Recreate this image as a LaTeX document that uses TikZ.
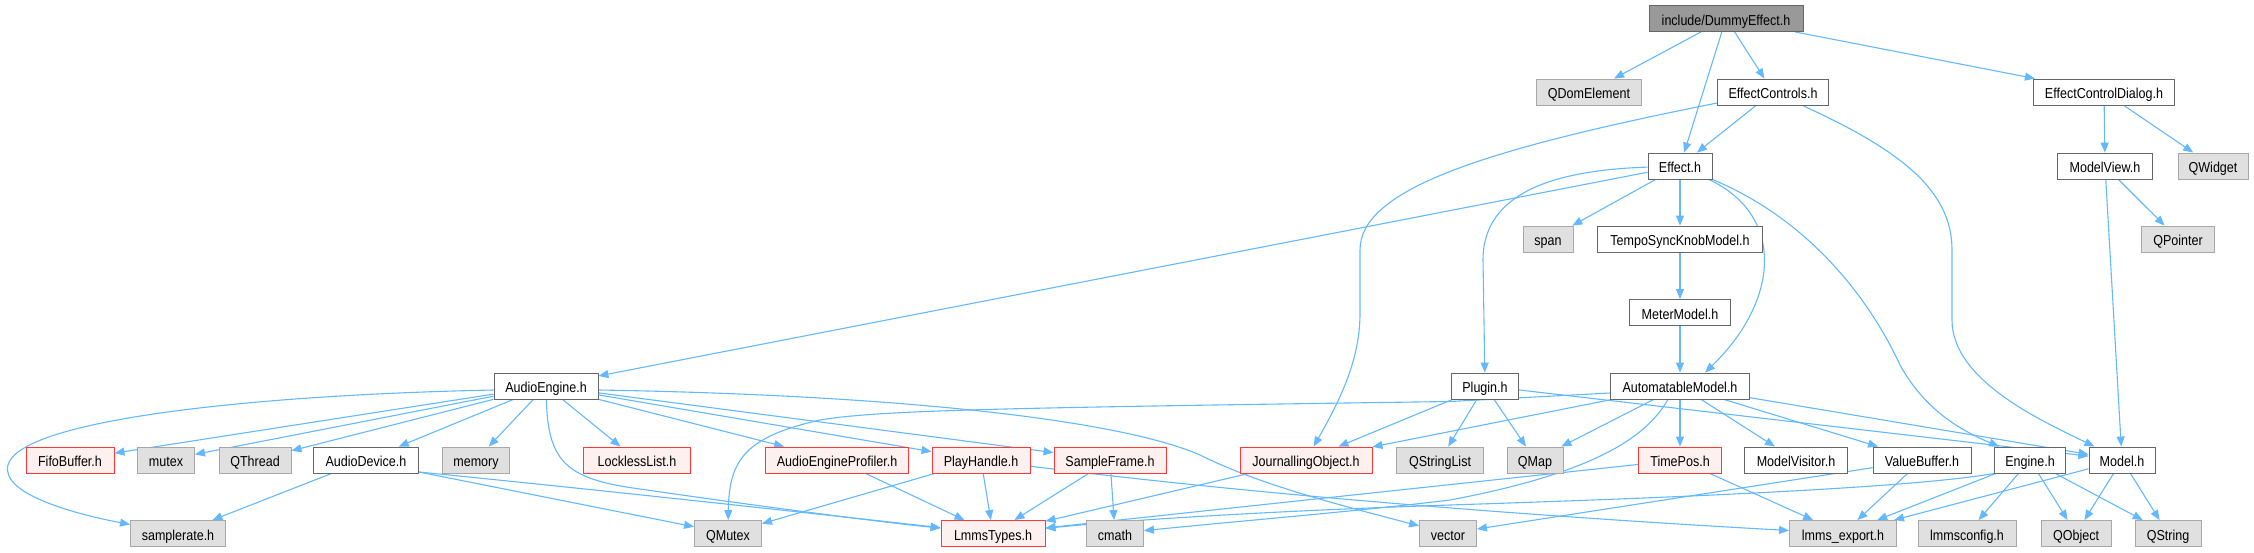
\documentclass[tikz,border=0pt]{standalone}
\usepackage{fontspec}
\setmainfont{Liberation Sans}[FakeStretch=0.87]
\usetikzlibrary{arrows.meta}
\definecolor{edgec}{HTML}{63B8FF}
\definecolor{bord}{HTML}{666666}
\definecolor{gfill}{HTML}{E0E0E0}
\definecolor{gbord}{HTML}{A8A8A8}
\definecolor{rfill}{HTML}{FFF0F0}
\definecolor{rbord}{HTML}{FF3838}
\definecolor{rootfill}{HTML}{999999}
\pgfdeclarelayer{background}
\pgfsetlayers{background,main}
\begin{document}
\begin{tikzpicture}[x=1pt,y=-1pt,
  nbase/.style={rectangle, minimum height=26pt, inner sep=0pt, line width=0.9pt,
    font=\fontsize{14.4}{16}\selectfont, text height=13.6pt, text depth=0pt},
  wbox/.style={nbase, draw=bord, fill=white},
  gbox/.style={nbase, draw=gbord, fill=gfill},
  rbox/.style={nbase, draw=rbord, fill=rfill},
  rootbox/.style={nbase, draw=bord, fill=rootfill},
  dep/.style={draw=edgec, line width=1.1pt, -{Triangle[length=10pt,width=8pt]}}]
\useasboundingbox (0,0) rectangle (2254,552);
% row A
\node[rootbox, minimum width=154pt] (root) at (1726,18.5) {include/DummyEffect.h};
% row B
\node[gbox, minimum width=105pt] (qdom) at (1589,92) {QDomElement};
\node[wbox, minimum width=111pt] (ectrl) at (1773,92) {EffectControls.h};
\node[wbox, minimum width=141pt] (ecd) at (2104,92) {EffectControlDialog.h};
% row C
\node[wbox, minimum width=64pt] (effect) at (1680,166) {Effect.h};
\node[wbox, minimum width=95pt] (mview) at (2105,166) {ModelView.h};
\node[gbox, minimum width=70pt] (qwidget) at (2213,166) {QWidget};
% row D
\node[gbox, minimum width=50pt] (span) at (1548,239) {span};
\node[wbox, minimum width=165pt] (tsk) at (1680,239) {TempoSyncKnobModel.h};
\node[gbox, minimum width=73pt] (qpointer) at (2178,239) {QPointer};
% row E
\node[wbox, minimum width=101pt] (meter) at (1680,312.5) {MeterModel.h};
% row F
\node[wbox, minimum width=104pt] (aeng) at (546,386) {AudioEngine.h};
\node[wbox, minimum width=67pt] (plugin) at (1485,386) {Plugin.h};
\node[wbox, minimum width=139pt] (amodel) at (1680,386) {AutomatableModel.h};
% row G
\node[rbox, minimum width=88pt] (fifo) at (70,460) {FifoBuffer.h};
\node[gbox, minimum width=57pt] (mutex) at (166,460) {mutex};
\node[gbox, minimum width=72pt] (qthread) at (255,460) {QThread};
\node[wbox, minimum width=105pt] (adev) at (366,460) {AudioDevice.h};
\node[gbox, minimum width=67pt] (memory) at (476,460) {memory};
\node[rbox, minimum width=107pt] (lockless) at (637,460) {LocklessList.h};
\node[rbox, minimum width=143pt] (aep) at (837,460) {AudioEngineProfiler.h};
\node[rbox, minimum width=98pt] (phandle) at (981,460) {PlayHandle.h};
\node[rbox, minimum width=112pt] (sframe) at (1110,460) {SampleFrame.h};
\node[rbox, minimum width=132pt] (jobj) at (1306,460) {JournallingObject.h};
\node[gbox, minimum width=87pt] (qsl) at (1440,460) {QStringList};
\node[gbox, minimum width=56pt] (qmap) at (1535,460) {QMap};
\node[rbox, minimum width=83pt] (timepos) at (1680,460) {TimePos.h};
\node[wbox, minimum width=103pt] (mvisitor) at (1796,460) {ModelVisitor.h};
\node[wbox, minimum width=98pt] (vbuf) at (1922,460) {ValueBuffer.h};
\node[wbox, minimum width=71pt] (engine) at (2030,460) {Engine.h};
\node[wbox, minimum width=66pt] (model) at (2122,460) {Model.h};
% row H
\node[gbox, minimum width=95pt] (samplerate) at (178,533.5) {samplerate.h};
\node[gbox, minimum width=67pt] (qmutex) at (728,533.5) {QMutex};
\node[rbox, minimum width=104pt] (lmmstypes) at (993,533.5) {LmmsTypes.h};
\node[gbox, minimum width=57pt] (cmath) at (1115,533.5) {cmath};
\node[gbox, minimum width=57pt] (vector) at (1448,533.5) {vector};
\node[gbox, minimum width=107pt] (lexport) at (1843,533.5) {lmms\_export.h};
\node[gbox, minimum width=98pt] (lconfig) at (1967,533.5) {lmmsconfig.h};
\node[gbox, minimum width=70pt] (qobject) at (2076,533.5) {QObject};
\node[gbox, minimum width=66pt] (qstring) at (2168,533.5) {QString};

\begin{pgfonlayer}{background}
\draw[dep] (root) -- (qdom);
\draw[dep] (root) -- (effect);
\draw[dep] (root) -- (ectrl);
\draw[dep] (root) -- (ecd);
\draw[dep] (ectrl) -- (effect);
\draw[dep] (ectrl) .. controls (1480,150) and (1360,190) .. (1360,250) -- (1360,313) .. controls (1360,360) and (1340,400) .. (jobj);
\draw[dep] (ectrl) .. controls (1900,150) and (1952,190) .. (1952,250) -- (1952,320) .. controls (1952,380) and (2040,420) .. (model);
\draw[dep] (ecd) -- (mview);
\draw[dep] (ecd) -- (qwidget);
\draw[dep] (mview) -- (qpointer);
\draw[dep] (mview) -- (model);
\draw[dep] (effect) -- (aeng);
\draw[dep] (effect) -- (span);
\draw[dep] (effect) -- (tsk);
\draw[dep] (effect) .. controls (1560,170) and (1483,190) .. (1483,260) -- (plugin);
\draw[dep] (effect) .. controls (1785,215) and (1780,300) .. ([xshift=25pt]amodel.north);
\draw[dep] (effect) .. controls (1810,220) and (1870,300) .. (1900,365) .. controls (1925,410) and (1960,430) .. ([xshift=5pt]engine.north west);
\draw[dep] (tsk) -- (meter);
\draw[dep] (meter) -- (amodel);
% Plugin
\draw[dep] (plugin) -- (jobj);
\draw[dep] (plugin) -- (qsl);
\draw[dep] (plugin) -- (qmap);
\draw[dep] (plugin) -- (model);
% AutomatableModel
\draw[dep] (amodel) -- (jobj);
\draw[dep] ([yshift=-7pt]amodel.west) -- (1450,401.5) .. controls (1000,408) and (880,410) .. (820,420) .. controls (745,437) and (729,460) .. (qmutex);
\draw[dep] (amodel) -- (qmap);
\draw[dep] (amodel) -- (timepos);
\draw[dep] (amodel) -- (mvisitor);
\draw[dep] (amodel) -- (vbuf);
\draw[dep] (amodel) -- (model);
\draw[dep] ([xshift=-12pt]amodel.south) .. controls (1650,430) and (1610,470) .. (1450,500) .. controls (1350,512) and (1250,520) .. (cmath);
% row G to row H
\draw[dep] (timepos) -- (lmmstypes);
\draw[dep] (timepos) -- (lexport);
\draw[dep] (vbuf) -- (lexport);
\draw[dep] (vbuf) -- (vector);
\draw[dep] (engine) -- (lexport);
\draw[dep] (engine) -- (lconfig);
\draw[dep] (engine) -- (qobject);
\draw[dep] (engine) -- (qstring);
\draw[dep] (engine.south west) .. controls (1900,490) and (1600,500) .. (1450,505) .. controls (1300,510) and (1150,518) .. (lmmstypes);
\draw[dep] (model) -- (lexport);
\draw[dep] (model) -- (qobject);
\draw[dep] (model) -- (qstring);
\draw[dep] (jobj) -- (lmmstypes);
\draw[dep] (sframe) -- (lmmstypes);
\draw[dep] (sframe) -- (cmath);
\draw[dep] (phandle) -- (qmutex);
\draw[dep] (phandle) -- (lmmstypes);
\draw[dep] (phandle) .. controls (1300,500) and (1600,520) .. (lexport);
\draw[dep] (aep) -- (lmmstypes);
% AudioEngine
\draw[dep] ([yshift=-4pt]aeng.west) .. controls (250,395) and (20,420) .. (8,465) .. controls (0,495) and (80,515) .. (samplerate);
\draw[dep] (aeng) -- (fifo);
\draw[dep] (aeng) -- (mutex);
\draw[dep] (aeng) -- (qthread);
\draw[dep] (aeng) -- (adev);
\draw[dep] (aeng) -- (memory);
\draw[dep] (aeng) -- (lockless);
\draw[dep] (aeng) -- (aep);
\draw[dep] (aeng) -- (phandle);
\draw[dep] (aeng) -- (sframe);
\draw[dep] (aeng) .. controls (548,460) and (565,478) .. (633,488) .. controls (750,505) and (880,522) .. (lmmstypes);
\draw[dep] ([yshift=-4pt]aeng.east) .. controls (900,395) and (1120,420) .. (1200,455) .. controls (1260,485) and (1340,505) .. (vector);
% AudioDevice
\draw[dep] (adev) -- (samplerate);
\draw[dep] ([yshift=-12pt]adev.east) -- (qmutex);
\draw[dep] ([yshift=-12pt]adev.east) .. controls (600,490) and (800,512) .. (lmmstypes);
\end{pgfonlayer}
\end{tikzpicture}
\end{document}
